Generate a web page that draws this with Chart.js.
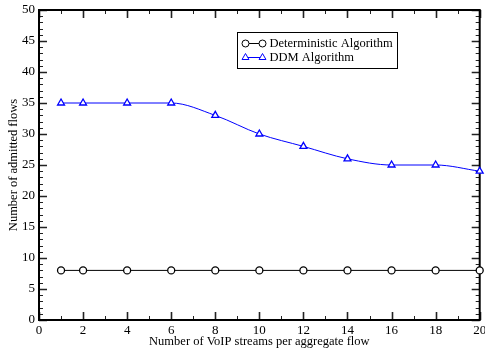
<!DOCTYPE html>
<html>
<head>
<meta charset="utf-8">
<script src="https://cdn.jsdelivr.net/npm/chart.js@4.4.0/dist/chart.umd.min.js"></script>
<style>
  html, body { margin: 0; padding: 0; background: #fff; }
</style>
</head>
<body>
<canvas id="myChart" width="485" height="351"></canvas>
<script>
// values
let streams = [1, 2, 4, 6, 8, 10, 12, 14, 16, 18, 20];
let deterministic = [8, 8, 8, 8, 8, 8, 8, 8, 8, 8, 8];
let ddm = [35, 35, 35, 35, 33, 30, 28, 26, 25, 25, 24];
let seriesNames = ['Deterministic Algorithm', 'DDM Algorithm'];
let xTitle = 'Number of VoIP streams per aggregate flow';
let yTitle = 'Number of admitted flows';

const serif = "'Liberation Serif', 'Times New Roman', serif";

function toPoints(values) {
    return streams.map((s, i) => ({x: s, y: values[i]}));
}

// boxed frame with inward major/minor ticks on all four sides
const frameTicks = {
    id: 'frameTicks',
    beforeDatasetsDraw(chart) {
        const ctx = chart.ctx;
        const {left, right, top, bottom} = chart.chartArea;
        const xs = chart.scales.x;
        const ys = chart.scales.y;
        ctx.save();
        ctx.strokeStyle = '#222';
        for (let v = xs.min; v <= xs.max; v++) {
            const px = Math.round(xs.getPixelForValue(v)) + 0.5;
            const major = v % 2 === 0;
            const len = major ? 8 : 4;
            ctx.lineWidth = major ? 1.6 : 1;
            ctx.beginPath();
            ctx.moveTo(px, bottom); ctx.lineTo(px, bottom - len);
            ctx.moveTo(px, top); ctx.lineTo(px, top + len);
            ctx.stroke();
        }
        for (let v = ys.min; v <= ys.max; v++) {
            const py = Math.round(ys.getPixelForValue(v)) + 0.5;
            const major = v % 5 === 0;
            const len = major ? 8 : 4;
            ctx.lineWidth = major ? 1.6 : 1;
            ctx.beginPath();
            ctx.moveTo(left, py); ctx.lineTo(left + len, py);
            ctx.moveTo(right, py); ctx.lineTo(right - len, py);
            ctx.stroke();
        }
        ctx.lineWidth = 2;
        ctx.strokeStyle = '#000';
        ctx.strokeRect(left, top, right - left, bottom - top);
        ctx.restore();
    }
};

// legend box inside the plot, like the original figure
const boxLegend = {
    id: 'boxLegend',
    afterDraw(chart) {
        const ctx = chart.ctx;
        const box = {x: 237.5, y: 32.5, w: 160, h: 36};
        ctx.save();
        ctx.fillStyle = '#fff';
        ctx.fillRect(box.x, box.y, box.w, box.h);
        ctx.strokeStyle = '#000';
        ctx.lineWidth = 1;
        ctx.strokeRect(box.x, box.y, box.w, box.h);
        chart.data.datasets.forEach((ds, i) => {
            const y = box.y + 11 + i * 14;
            const x0 = box.x + 8, x1 = box.x + 25;
            ctx.strokeStyle = ds.borderColor;
            ctx.lineWidth = 1;
            ctx.beginPath();
            ctx.moveTo(x0, y); ctx.lineTo(x1, y);
            ctx.stroke();
            ctx.fillStyle = '#fff';
            [x0, x1].forEach(px => {
                Chart.helpers.drawPoint(ctx, {
                    pointStyle: ds.pointStyle,
                    radius: ds.pointRadius,
                    borderWidth: ds.pointBorderWidth,
                    rotation: 0
                }, px, y);
            });
            ctx.fillStyle = '#000';
            ctx.font = '12.5px ' + serif;
            ctx.textBaseline = 'middle';
            ctx.textAlign = 'left';
            ctx.fillText(ds.label, box.x + 32, y + 0.5);
        });
        ctx.restore();
    }
};

let myChart = document.getElementById('myChart').getContext('2d');

let chart = new Chart(myChart, {
    type: 'line',
    data: {
        datasets: [{
            label: seriesNames[0],
            data: toPoints(deterministic),
            borderColor: '#000',
            borderWidth: 1,
            pointStyle: 'circle',
            pointRadius: 3.5,
            pointBorderWidth: 1.3,
            pointBackgroundColor: '#fff',
            pointBorderColor: '#000',
            tension: 0,
            clip: false
        }, {
            label: seriesNames[1],
            data: toPoints(ddm),
            borderColor: '#0000ff',
            borderWidth: 1,
            pointStyle: 'triangle',
            pointRadius: 4,
            pointBorderWidth: 1.3,
            pointBackgroundColor: '#fff',
            pointBorderColor: '#0000ff',
            cubicInterpolationMode: 'monotone',
            clip: false
        }]
    },
    options: {
        responsive: false,
        animation: false,
        layout: {padding: {top: 10, right: 2, left: 0, bottom: 0}},
        plugins: {
            legend: {display: false},
            tooltip: {enabled: false}
        },
        scales: {
            x: {
                type: 'linear',
                min: 0,
                max: 20,
                grid: {display: false, drawTicks: false},
                border: {display: false},
                ticks: {
                    stepSize: 2,
                    padding: 3,
                    maxRotation: 0,
                    autoSkip: false,
                    color: '#000',
                    font: {family: serif, size: 13}
                },
                title: {
                    display: true,
                    text: xTitle,
                    color: '#000',
                    font: {family: serif, size: 12.5},
                    padding: {top: 0, bottom: 1.5}
                },
                afterFit(scale) {
                    scale.height = 31;
                    scale.paddingLeft = 0;
                    scale.paddingRight = 0;
                }
            },
            y: {
                min: 0,
                max: 50,
                grid: {display: false, drawTicks: false},
                border: {display: false},
                ticks: {
                    stepSize: 5,
                    padding: 4,
                    color: '#000',
                    font: {family: serif, size: 13}
                },
                title: {
                    display: true,
                    text: yTitle,
                    color: '#000',
                    font: {family: serif, size: 12.5},
                    padding: {top: 6.5, bottom: 0}
                },
                afterFit(scale) {
                    scale.width = 39;
                    scale.paddingTop = 0;
                    scale.paddingBottom = 0;
                }
            }
        }
    },
    plugins: [frameTicks, boxLegend]
});
</script>
</body>
</html>
